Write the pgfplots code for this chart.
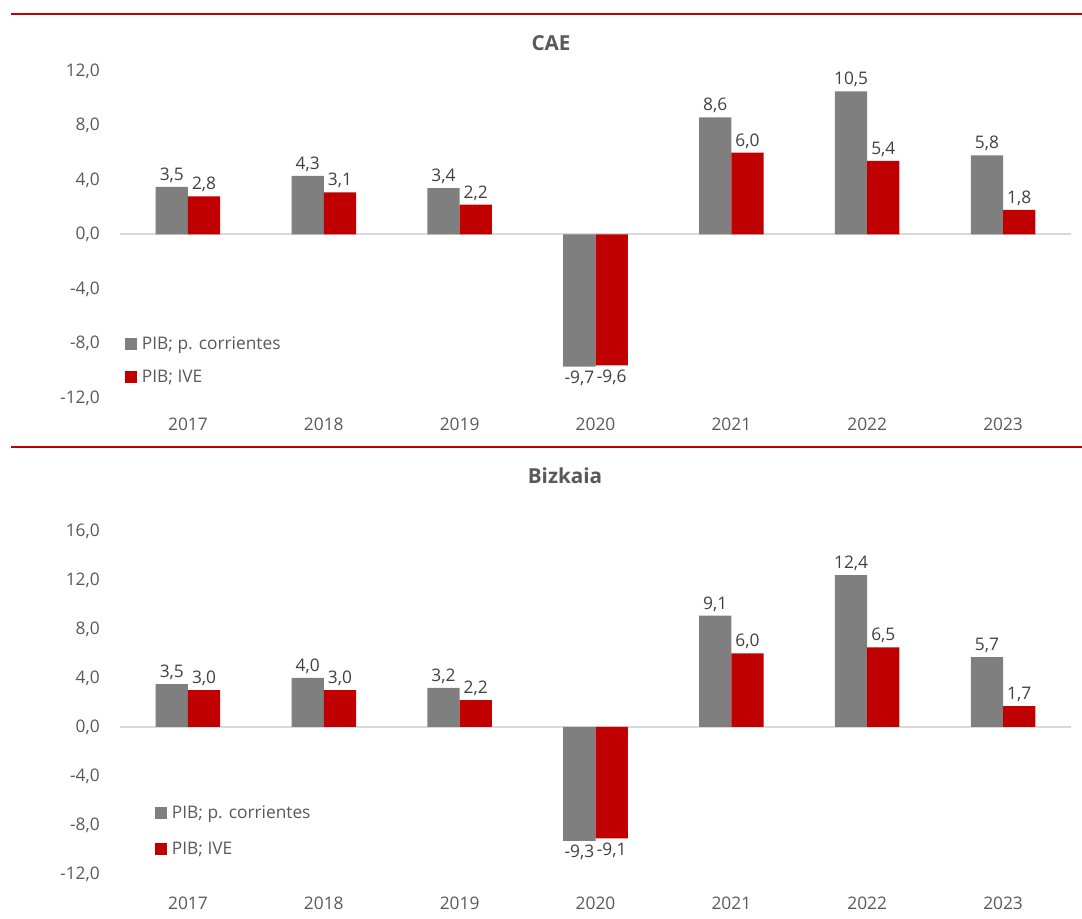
\documentclass[border=0pt]{standalone}
\usepackage{pgfplots}
\pgfplotsset{compat=1.18}
\usepackage{fontspec}
\setmainfont{Open Sans}
\definecolor{barGray}{HTML}{7F7F7F}
\definecolor{barRed}{HTML}{C00000}
\definecolor{lineRed}{HTML}{C00000}
\definecolor{tickText}{HTML}{595959}
\definecolor{labText}{HTML}{404040}
\definecolor{zeroLine}{HTML}{D9D9D9}

\pgfplotstableread{
x g r
0 3.5 2.8
1 4.3 3.1
2 3.4 2.2
3 -9.7 -9.6
4 8.6 6.0
5 10.5 5.4
6 5.8 1.8
}\caedata
\pgfplotstableread{
x g r
0 3.5 3.0
1 4.0 3.0
2 3.2 2.2
3 -9.3 -9.1
4 9.1 6.0
5 12.4 6.5
6 5.7 1.7
}\bizdata

\pgfplotsset{
  mybars/.style={
    scale only axis,
    width=713.25pt,
    xmin=-0.5, xmax=6.5,
    ybar=0pt,
    bar width=24.2pt,
    axis line style={draw=none},
    major tick length=0pt,
    xtick={0,...,6},
    xticklabels={2017,2018,2019,2020,2021,2022,2023},
    /pgf/number format/.cd, fixed, fixed zerofill, precision=1, use comma, assume math mode=true,
    /pgfplots/.cd,
    ticklabel style={font=\fontsize{13}{15.6}\selectfont, text=tickText},
    yticklabel style={anchor=east, inner sep=0pt, xshift=-15pt},
    nodes near coords,
    every node near coord/.append style={font=\fontsize{13}{15.6}\selectfont, text=labText, inner sep=3pt},
    clip=false,
    legend cell align=left,
    legend style={draw=none, fill=none, inner sep=0pt,
      font=\fontsize{13}{15.6}\selectfont, text=tickText,
      nodes={inner sep=1pt},
      /tikz/every odd column/.append style={column sep=2.5pt}},
  }
}

\begin{document}
\begin{tikzpicture}
\useasboundingbox (0,0) rectangle (811.5pt,688.5pt);
\draw[lineRed, line width=1.6pt] (8.25pt,678pt) -- (811.5pt,678pt);
\draw[lineRed, line width=1.6pt] (8.25pt,353.25pt) -- (811.5pt,353.25pt);
\node[font=\bfseries\fontsize{15.5}{18}\selectfont, text=tickText] at (413.25pt,656.25pt) {CAE};
\node[font=\bfseries\fontsize{15.5}{18}\selectfont, text=tickText] at (423.75pt,331.5pt) {Bizkaia};

\begin{axis}[mybars,
  at={(90pt,390pt)}, anchor=south west,
  height=245.25pt,
  ymin=-12, ymax=12,
  ytick={-12,-8,-4,0,4,8,12},
  xticklabel style={anchor=center, inner sep=0pt, yshift=-20pt},
  legend style={at={(axis description cs:0.0053,0.193)}, anchor=north west, row sep=12pt},
]
\draw[zeroLine, line width=1.5pt] (axis cs:-0.5,0) -- (axis cs:6.5,0);
\addplot[fill=barGray, draw=none,
  legend image code/.code={\fill[barGray] (0pt,-4.5pt) rectangle (9pt,4.5pt);}]
  table[x=x,y=g]{\caedata};
\addplot[fill=barRed, draw=none,
  legend image code/.code={\fill[barRed] (0pt,-4.5pt) rectangle (9pt,4.5pt);}]
  table[x=x,y=r]{\caedata};
\legend{PIB; p. corrientes, PIB; IVE}
\end{axis}

\begin{axis}[mybars,
  at={(90pt,33pt)}, anchor=south west,
  height=257.25pt,
  ymin=-12, ymax=16,
  ytick={-12,-8,-4,0,4,8,12,16},
  xticklabel style={anchor=center, inner sep=0pt, yshift=-21.75pt},
  legend style={at={(axis description cs:0.0368,0.204)}, anchor=north west, row sep=14.2pt},
]
\draw[zeroLine, line width=1.5pt] (axis cs:-0.5,0) -- (axis cs:6.5,0);
\addplot[fill=barGray, draw=none,
  legend image code/.code={\fill[barGray] (0pt,-4.5pt) rectangle (9pt,4.5pt);}]
  table[x=x,y=g]{\bizdata};
\addplot[fill=barRed, draw=none,
  legend image code/.code={\fill[barRed] (0pt,-4.5pt) rectangle (9pt,4.5pt);}]
  table[x=x,y=r]{\bizdata};
\legend{PIB; p. corrientes, PIB; IVE}
\end{axis}
\end{tikzpicture}
\end{document}
